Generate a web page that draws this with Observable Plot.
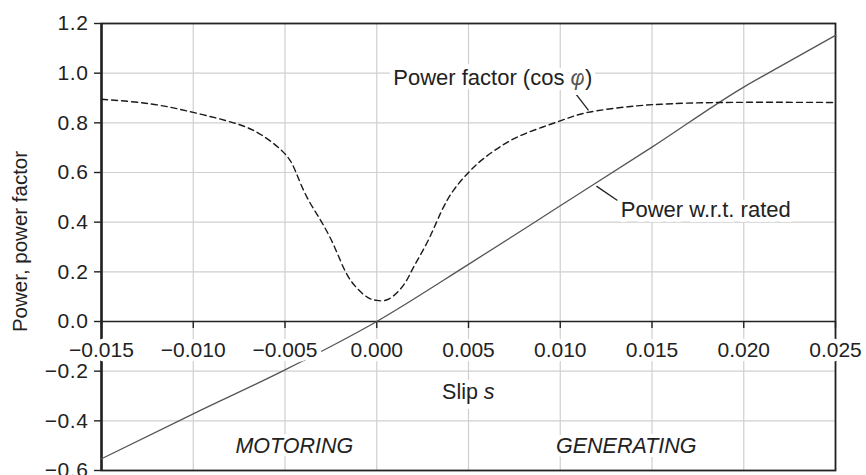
<!DOCTYPE html>
<html><head><meta charset="utf-8">
<script src="https://cdn.jsdelivr.net/npm/d3@7"></script>
<script src="https://cdn.jsdelivr.net/npm/@observablehq/plot@0.6"></script>
<style>
html,body{margin:0;padding:0;background:#fff;}
#chart svg{display:block;}
g[aria-label="y-axis tick label"] text, g[aria-label="x tick labels"] text {letter-spacing:0.6px;}
</style></head><body><div id="chart"></div>
<script>
// Ticks
const xTicks = [-0.015, -0.010, -0.005, 0.000, 0.005, 0.010, 0.015, 0.020, 0.025];
const yTicks = [-0.6, -0.4, -0.2, 0.0, 0.2, 0.4, 0.6, 0.8, 1.0, 1.2];

// Power factor (cos phi) vs slip (dashed)
const pfSlip  = [-0.015, -0.0123, -0.0100, -0.0078, -0.0063, -0.0050, -0.0044, -0.0038, -0.0030, -0.0023, -0.0017, -0.0011, -0.0005, 0.0000, 0.0007, 0.0015, 0.0020, 0.0028, 0.0035, 0.0042, 0.0050, 0.0058, 0.0069, 0.0082, 0.0100, 0.0115, 0.0137, 0.0155, 0.0188, 0.0250];
const pfValue = [0.895, 0.876, 0.842, 0.800, 0.752, 0.675, 0.600, 0.500, 0.400, 0.300, 0.200, 0.136, 0.097, 0.085, 0.092, 0.151, 0.218, 0.326, 0.440, 0.530, 0.600, 0.655, 0.712, 0.760, 0.808, 0.842, 0.865, 0.875, 0.882, 0.882];

// Power w.r.t. rated vs slip (solid)
const powerSlip  = [-0.015, -0.010, -0.005, 0.000, 0.005, 0.010, 0.015, 0.020, 0.0216, 0.025];
const powerValue = [-0.553, -0.372, -0.195, 0.000, 0.230, 0.466, 0.702, 0.944, 1.011, 1.152];

// Annotations
const labelText  = ["Power factor (cos φ)", "Power w.r.t. rated"];
const labelSlip  = [0.00632, 0.01793];
const labelValue = [0.979, 0.450];
const leaderSlip1  = [0.01075, 0.01197];
const leaderValue1 = [0.926, 0.545];
const leaderSlip2  = [0.01154, 0.01312];
const leaderValue2 = [0.850, 0.487];
const regionText  = ["MOTORING", "GENERATING"];
const regionSlip  = [-0.00449, 0.0136];
const regionValue = [-0.500, -0.500];
const xTitle = "Slip s";
const xTitleSlip = [0.00499];
const xTitleValue = [-0.284];
const yTitle = "Power, power factor";

const pf = pfSlip.map((s, i) => ({s, v: pfValue[i]}));
const power = powerSlip.map((s, i) => ({s, v: powerValue[i]}));
const labels = labelText.map((t, i) => ({t, s: labelSlip[i], v: labelValue[i]}));
const leaders = leaderSlip1.map((s, i) => ({s1: s, v1: leaderValue1[i], s2: leaderSlip2[i], v2: leaderValue2[i]}));
const regions = regionText.map((t, i) => ({t, s: regionSlip[i], v: regionValue[i]}));
const xTitles = [{t: xTitle, s: xTitleSlip[0], v: xTitleValue[0]}];

const fmtX = d3.format(".3f");
const fmtY = d3.format(".1f");
const ink = "#222";

const chart = Plot.plot({
  width: 866, height: 475,
  marginLeft: 101, marginRight: 31, marginTop: 23, marginBottom: 5,
  style: {fontFamily: '"Liberation Sans", Arial, Helvetica, sans-serif', fontSize: "21px", color: ink, background: "#fff"},
  x: {domain: [xTicks[0], xTicks[xTicks.length - 1]], axis: null},
  y: {domain: [yTicks[0], yTicks[yTicks.length - 1]], axis: null},
  marks: [
    Plot.gridX(xTicks, {stroke: "#cfcfcf", strokeOpacity: 1, strokeWidth: 1.2}),
    Plot.gridY(yTicks, {stroke: "#cfcfcf", strokeOpacity: 1, strokeWidth: 1.2}),
    Plot.frame({stroke: ink, strokeWidth: 1.8}),
    Plot.ruleX([xTicks[0]], {stroke: ink, strokeWidth: 2.4}),
    Plot.ruleY([0], {stroke: ink, strokeWidth: 1.7}),
    Plot.ruleX(xTicks, {x: d => d, y1: 0, y2: 0, insetBottom: -7, stroke: ink, strokeWidth: 1.4}),
    Plot.line(power, {x: "s", y: "v", stroke: "#555", strokeWidth: 1.3, curve: "monotone-x"}),
    Plot.line(pf, {x: "s", y: "v", stroke: "#1a1a1a", strokeWidth: 1.4, strokeDasharray: "6,4", curve: "natural"}),
    Plot.text(xTicks, {x: d => d, y: 0, text: d => fmtX(d), dy: 29, fontSize: 21, fill: ink, stroke: "white", strokeWidth: 9, paintOrder: "stroke", strokeLinejoin: "round", ariaLabel: "x tick labels"}),
    Plot.axisY(yTicks, {tickSize: 7, tickPadding: 6, tickFormat: fmtY, fontSize: 21, strokeWidth: 1.4, label: null}),
    Plot.link(leaders, {x1: "s1", y1: "v1", x2: "s2", y2: "v2", stroke: ink, strokeWidth: 1.3}),
    Plot.text(labels, {x: "s", y: "v", text: "t", fontSize: 22, fill: ink, stroke: "white", strokeWidth: 10, paintOrder: "stroke", strokeLinejoin: "round"}),
    Plot.text(xTitles, {x: "s", y: "v", text: "t", fontSize: 21.5, fill: ink, stroke: "white", strokeWidth: 10, paintOrder: "stroke", strokeLinejoin: "round"}),
    Plot.text(regions, {x: "s", y: "v", text: "t", fontSize: 21.5, fontStyle: "italic", fill: ink, stroke: "white", strokeWidth: 8, paintOrder: "stroke", strokeLinejoin: "round"}),
    Plot.text([yTitle], {frameAnchor: "left", textAnchor: "middle", rotate: -90, dx: -81, dy: -5.5, fontSize: 20.5, fill: ink})
  ]
});

// italic parts (s, phi) as tspans
function italicize(str, part, color) {
  d3.select(chart).selectAll("text").each(function () {
    if (this.textContent !== str) return;
    const k = str.lastIndexOf(part);
    const sel = d3.select(this);
    sel.text(null);
    sel.append("tspan").text(str.slice(0, k));
    const it = sel.append("tspan").attr("font-style", "italic").text(part);
    if (color) it.attr("fill", color);
    if (k + part.length < str.length) sel.append("tspan").text(str.slice(k + part.length));
  });
}
italicize(xTitle, "s");
italicize(labelText[0], "φ", "#555");

document.getElementById("chart").appendChild(chart);
</script>
</body></html>
